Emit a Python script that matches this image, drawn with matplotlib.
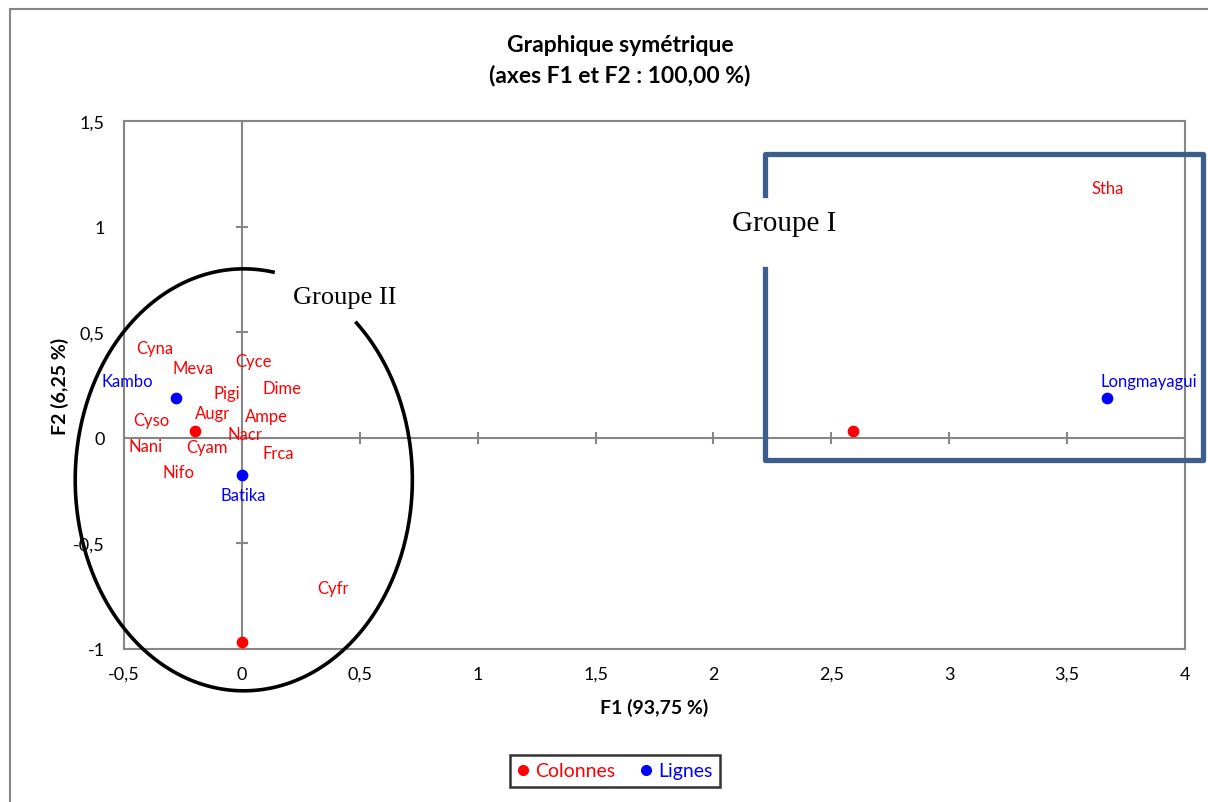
import matplotlib
matplotlib.use('Agg')
import matplotlib.pyplot as plt
import matplotlib.patches as mpatches
from matplotlib.lines import Line2D
import numpy as np

plt.rcParams['font.family'] = ['Lato', 'DejaVu Sans']

# ── data ───────────────────────────────────────────────────────────────────
col_x = [-0.20, 0.00, 2.59]          # red markers (Colonnes)
col_y = [0.033, -0.967, 0.033]
row_x = [-0.281, 0.00, 3.668]        # blue markers (Lignes)
row_y = [0.188, -0.175, 0.188]

col_names = ["Cyna", "Meva", "Cyce", "Pigi", "Dime", "Augr", "Ampe", "Cyso",
             "Nacr", "Nani", "Cyam", "Frca", "Nifo", "Cyfr", "Stha"]
col_lx = [-0.369, -0.208, 0.051, -0.064, 0.170, -0.123, 0.106, -0.382,
          0.013, -0.407, -0.148, 0.153, -0.267, 0.387, 3.673]
col_ly = [0.426, 0.331, 0.364, 0.213, 0.237, 0.118, 0.104, 0.085,
          0.019, -0.038, -0.043, -0.071, -0.161, -0.710, 1.183]

row_names = ["Kambo", "Batika", "Longmayagui"]
row_lx = [-0.488, 0.004, 3.847]
row_ly = [0.270, -0.270, 0.270]

xticks = [-0.5, 0, 0.5, 1, 1.5, 2, 2.5, 3, 3.5, 4]
yticks = [-1, -0.5, 0, 0.5, 1, 1.5]

C_RED = '#FF0000'
C_BLUE = '#0000FF'
C_GRID = '#868686'
C_BOX = '#3B5E8C'


def fmt(v):
    return ('%g' % v).replace('.', ',')


fig = plt.figure(figsize=(12.08, 8.03), dpi=100, facecolor='white')
ax = fig.add_axes([124 / 1208, 1 - 650 / 803, (1185 - 124) / 1208, (650 - 122) / 803])
ax.set_xlim(-0.5, 4)
ax.set_ylim(-1, 1.5)

for sp in ax.spines.values():
    sp.set_color(C_GRID)
    sp.set_linewidth(1.5)

ax.set_xticks(xticks)
ax.set_xticklabels([fmt(v) for v in xticks])
ax.set_yticks(yticks)
ax.set_yticklabels([fmt(v) for v in yticks])
ax.tick_params(length=0, labelsize=13, pad=12)
ax.tick_params(axis='y', pad=14)

# zero axes with cross ticks (Excel style)
ax.axhline(0, color=C_GRID, lw=1.5, zorder=1)
ax.axvline(0, color=C_GRID, lw=1.5, zorder=1)
ax.plot(xticks, [0] * len(xticks), ls='none', marker='|', ms=9, mew=1.5,
        color=C_GRID, zorder=1)
ax.plot([0] * len(yticks), yticks, ls='none', marker='_', ms=9, mew=1.5,
        color=C_GRID, zorder=1)

ax.scatter(col_x, col_y, s=55, color=C_RED, zorder=4, label='Colonnes')
ax.scatter(row_x, row_y, s=55, color=C_BLUE, zorder=4, label='Lignes')

for n, x, y in zip(col_names, col_lx, col_ly):
    ax.text(x, y, n, color=C_RED, fontsize=12, ha='center', va='center', zorder=5)
for n, x, y in zip(row_names, row_lx, row_ly):
    ax.text(x, y, n, color=C_BLUE, fontsize=12, ha='center', va='center',
            zorder=5, clip_on=False)

# ── Groupe II ellipse (open at the top right) ──────────────────────────────
t = np.radians(np.linspace(80, 408, 400))
ex, ey, ea, eb = 0.008, -0.199, 0.715, 0.999
ax.plot(ex + ea * np.cos(t), ey + eb * np.sin(t), color='black', lw=2.6,
        clip_on=False, zorder=3)
ax.text(0.438, 0.668, "Groupe II", family='Liberation Serif', fontsize=19,
        ha='center', va='center')

# ── Groupe I box (open on the left side) ───────────────────────────────────
bx0, bx1, by0, by1 = 2.218, 4.076, -0.104, 1.344
ax.plot([bx0, bx0, bx1, bx1, bx0, bx0],
        [0.80, by0, by0, by1, by1, 1.150],
        color=C_BOX, lw=3.8, clip_on=False, zorder=3, solid_joinstyle='round')
ax.text(2.302, 1.016, "Groupe I", family='Liberation Serif', fontsize=21,
        ha='center', va='center')

ax.set_xlabel("F1 (93,75 %)", fontsize=14, fontweight='bold', labelpad=12)
ax.set_ylabel("F2 (6,25 %)", fontsize=14, fontweight='bold', labelpad=3)

fig.text(620 / 1208, 1 - 46 / 803, "Graphique symétrique", fontsize=16.5,
         fontweight='bold', ha='center', va='center')
fig.text(620 / 1208, 1 - 76 / 803, "(axes F1 et F2 : 100,00 %)", fontsize=16.5,
         fontweight='bold', ha='center', va='center')

handles = [Line2D([], [], ls='none', marker='o', ms=7, color=C_RED),
           Line2D([], [], ls='none', marker='o', ms=7, color=C_BLUE)]
leg = fig.legend(handles, ['Colonnes', 'Lignes'], loc='center',
                 bbox_to_anchor=(615 / 1208, 1 - 772 / 803), ncol=2,
                 fontsize=14, frameon=True, fancybox=False, handlelength=0.6,
                 handletextpad=0.3, columnspacing=1.3, borderpad=0.4,
                 borderaxespad=0)
leg.get_frame().set_edgecolor('black')
leg.get_frame().set_linewidth(1.8)
for txt, c in zip(leg.get_texts(), [C_RED, C_BLUE]):
    txt.set_color(c)

# outer chart border (top / left only visible)
fig.patches.append(mpatches.Rectangle((10 / 1208, -0.5), 2, 1.5 - 10 / 803,
                                      transform=fig.transFigure, fill=False,
                                      edgecolor=C_GRID, lw=1.5))

fig.savefig('out.png', dpi=100, facecolor='white')
